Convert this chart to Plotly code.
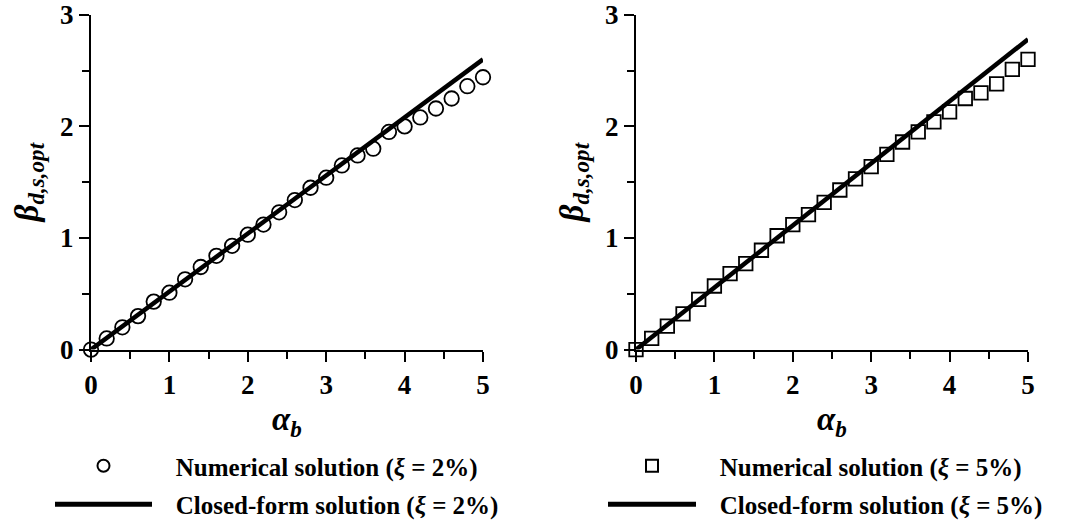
import plotly.graph_objects as go

# ---- data ----
alpha_num = [0.0, 0.2, 0.4, 0.6, 0.8, 1.0, 1.2, 1.4, 1.6, 1.8, 2.0, 2.2, 2.4,
             2.6, 2.8, 3.0, 3.2, 3.4, 3.6, 3.8, 4.0, 4.2, 4.4, 4.6, 4.8, 5.0]
beta_num_2 = [0.0, 0.10, 0.20, 0.30, 0.43, 0.51, 0.63, 0.74, 0.84, 0.93, 1.03, 1.12, 1.23,
              1.34, 1.45, 1.54, 1.65, 1.74, 1.80, 1.95, 2.00, 2.08, 2.16, 2.25, 2.36, 2.44]
beta_num_5 = [0.0, 0.10, 0.21, 0.32, 0.45, 0.57, 0.68, 0.77, 0.89, 1.02, 1.12, 1.21, 1.32,
              1.43, 1.53, 1.64, 1.75, 1.86, 1.95, 2.04, 2.13, 2.25, 2.30, 2.38, 2.51, 2.60]
alpha_cf = [0.0, 5.0]
beta_cf_2 = [0.0, 2.60]
beta_cf_5 = [0.0, 2.78]

x_ticks = [0, 1, 2, 3, 4, 5]
y_ticks = [0, 1, 2, 3]

FONT = "Liberation Serif"
NB = "\u00a0\u00a0\u00a0"

fig = go.Figure()

# left panel
fig.add_trace(go.Scatter(
    x=alpha_num, y=beta_num_2, mode="markers", xaxis="x", yaxis="y",
    name=NB + "<b>Numerical solution (<i>ξ</i> = 2%)</b>", legend="legend", legendgroup="a",
    marker=dict(symbol="circle-open", size=14.5, color="black", line=dict(width=1.8, color="black")),
    cliponaxis=False))
fig.add_trace(go.Scatter(
    x=alpha_cf, y=beta_cf_2, mode="lines", xaxis="x", yaxis="y",
    name=NB + "<b>Closed-form solution (<i>ξ</i> = 2%)</b>", legend="legend", legendgroup="b",
    line=dict(color="black", width=4.5), cliponaxis=False))

# right panel
fig.add_trace(go.Scatter(
    x=alpha_num, y=beta_num_5, mode="markers", xaxis="x2", yaxis="y2",
    name=NB + "<b>Numerical solution (<i>ξ</i> = 5%)</b>", legend="legend2", legendgroup="c",
    marker=dict(symbol="square-open", size=13.5, color="black", line=dict(width=1.8, color="black")),
    cliponaxis=False))
fig.add_trace(go.Scatter(
    x=alpha_cf, y=beta_cf_5, mode="lines", xaxis="x2", yaxis="y2",
    name=NB + "<b>Closed-form solution (<i>ξ</i> = 5%)</b>", legend="legend2", legendgroup="d",
    line=dict(color="black", width=4.5), cliponaxis=False))

W, H = 1066, 527
ydom = [(H - 355) / H, (H - 15) / H]

tickfont = dict(family=FONT, size=27, color="black")
xtitle = dict(text="<b><i>α</i></b><sub><b><i>b</i></b></sub>",
              font=dict(family=FONT, size=33, color="black"), standoff=8)
ytitle = dict(text="<b><i>β</i></b><sub><b><i>d,s,opt</i></b></sub>",
              font=dict(family=FONT, size=33, color="black"), standoff=12)

common_x = dict(range=[0, 5], tickvals=x_ticks, ticktext=[f"<b>{v}</b>" for v in x_ticks],
                showline=True, linecolor="black", linewidth=2,
                ticks="outside", ticklen=10, tickwidth=2, tickcolor="black",
                minor=dict(dtick=0.5, ticks="outside", ticklen=7, tickwidth=2, tickcolor="black"),
                showgrid=False, zeroline=False, tickfont=tickfont, automargin=False, title=xtitle)
common_y = dict(range=[0, 3], tickvals=y_ticks, ticktext=[f"<b>{v}</b>" for v in y_ticks],
                showline=True, linecolor="black", linewidth=2,
                ticks="outside", ticklen=10, tickwidth=2, tickcolor="black",
                minor=dict(dtick=0.5, ticks="outside", ticklen=7, tickwidth=2, tickcolor="black"),
                showgrid=False, zeroline=False, tickfont=tickfont, automargin=False, title=ytitle,
                domain=ydom)

legfont = dict(family=FONT, size=25, color="black")

fig.update_layout(
    width=W, height=H, margin=dict(l=0, r=0, t=0, b=0),
    paper_bgcolor="white", plot_bgcolor="white",
    font=dict(family=FONT, color="black"),
    xaxis=dict(domain=[91 / W, 483 / W], anchor="y", **common_x),
    yaxis=dict(anchor="x", **common_y),
    xaxis2=dict(domain=[636 / W, 1028 / W], anchor="y2", **common_x),
    yaxis2=dict(anchor="x2", **common_y),
    legend=dict(x=50 / W, xanchor="left", y=(H - 450) / H, yanchor="top",
                font=legfont, itemwidth=97, tracegroupgap=3, bgcolor="rgba(0,0,0,0)",
                borderwidth=0, traceorder="grouped", itemsizing="constant"),
    legend2=dict(x=603 / W, xanchor="left", y=(H - 450) / H, yanchor="top",
                 font=legfont, itemwidth=88, tracegroupgap=3, bgcolor="rgba(0,0,0,0)",
                 borderwidth=0, traceorder="grouped", itemsizing="constant"),
    showlegend=True,
)

fig.write_html("out.html")
